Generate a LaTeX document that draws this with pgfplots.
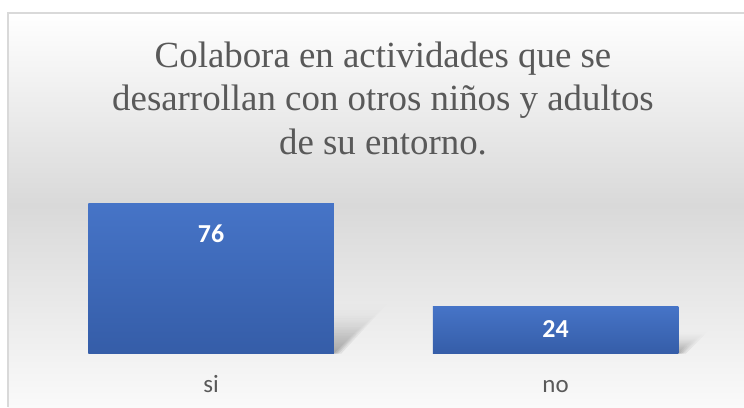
\documentclass[border=0pt]{standalone}
\usepackage{fontspec}
\setmainfont{Liberation Serif}
\newfontfamily\carlito{Carlito}
\usepackage{pgfplots}
\pgfplotsset{compat=1.18}
\usetikzlibrary{fadings}

\definecolor{txtgray}{HTML}{595959}
\definecolor{bggray}{HTML}{D9D9D9}
\definecolor{framegray}{HTML}{D9D9D9}
\definecolor{bartop}{HTML}{4674C7}
\definecolor{barbot}{HTML}{355DA8}

\tikzset{lbl/.style={font=\carlito\bfseries\fontsize{26}{30}\selectfont,
    text=white, anchor=center, /pgf/number format/assume math mode=true}}

\begin{document}
\begin{tikzpicture}[x=1bp,y=1bp]
\useasboundingbox (0,0) rectangle (744,407);
\fill[white] (0,0) rectangle (744,407);
% chart area background
\shade[top color=white, bottom color=bggray] (8,202) rectangle (744,394);
\shade[top color=bggray, bottom color=white!98!black] (8,0) rectangle (744,202);
\draw[framegray, line width=1.5bp] (8,0) -- (8,394) -- (744,394);

% title
\begin{scope}[every node/.style={anchor=base, inner sep=0pt, text=txtgray,
    font=\fontsize{37}{44}\selectfont}]
\node at (383,340) {Colabora en actividades que se};
\node at (383,296.5) {desarrollan con otros niños y adultos};
\node at (383,253) {de su entorno.};
\end{scope}

\begin{axis}[
    scale only axis,
    width=689bp, height=158bp,
    at={(38.8bp,53.3bp)}, anchor=south west,
    xmin=-0.5, xmax=1.5, ymin=0, ymax=80,
    axis line style={draw=none},
    xtick={0,1}, xticklabels={si,no},
    ytick=\empty,
    major tick length=0pt,
    xticklabel style={font=\carlito\fontsize{25}{29}\selectfont, text=txtgray,
        anchor=base, yshift=-39bp},
    clip=false,
    shadow/.style={draw=none, fill=black, fill opacity=0.07, path fading=north},
]
% soft shadows behind the bars (layered to look blurred)
\addplot[shadow] coordinates {(-0.356,0) (0.356,0) (0.436,14) (-0.276,14)} -- cycle;
\addplot[shadow] coordinates {(-0.356,0) (0.361,0) (0.456,17) (-0.256,17)} -- cycle;
\addplot[shadow] coordinates {(-0.356,0) (0.366,0) (0.476,20) (-0.236,20)} -- cycle;
\addplot[shadow] coordinates {(-0.356,0) (0.371,0) (0.496,23) (-0.216,23)} -- cycle;
\addplot[shadow] coordinates {(-0.356,0) (0.378,0) (0.516,26) (-0.196,26)} -- cycle;
\addplot[shadow] coordinates {(0.644,0) (1.356,0) (1.386,6) (0.674,6)} -- cycle;
\addplot[shadow] coordinates {(0.644,0) (1.361,0) (1.401,7.5) (0.684,7.5)} -- cycle;
\addplot[shadow] coordinates {(0.644,0) (1.366,0) (1.416,9) (0.694,9)} -- cycle;
\addplot[shadow] coordinates {(0.644,0) (1.371,0) (1.431,10.5) (0.704,10.5)} -- cycle;
\addplot[shadow] coordinates {(0.644,0) (1.378,0) (1.446,12) (0.714,12)} -- cycle;

% bars
\addplot[ybar, bar width=245.5bp, bar shift=0pt, draw=none,
    top color=bartop, bottom color=barbot,
    nodes near coords,
    every node near coord/.append style={lbl, yshift=-30bp}]
    coordinates {(0,76)};
\addplot[ybar, bar width=245.5bp, bar shift=0pt, draw=none,
    top color=bartop, bottom color=barbot,
    nodes near coords,
    every node near coord/.append style={lbl, yshift=-22.7bp}]
    coordinates {(1,24)};
\end{axis}
\end{tikzpicture}
\end{document}
